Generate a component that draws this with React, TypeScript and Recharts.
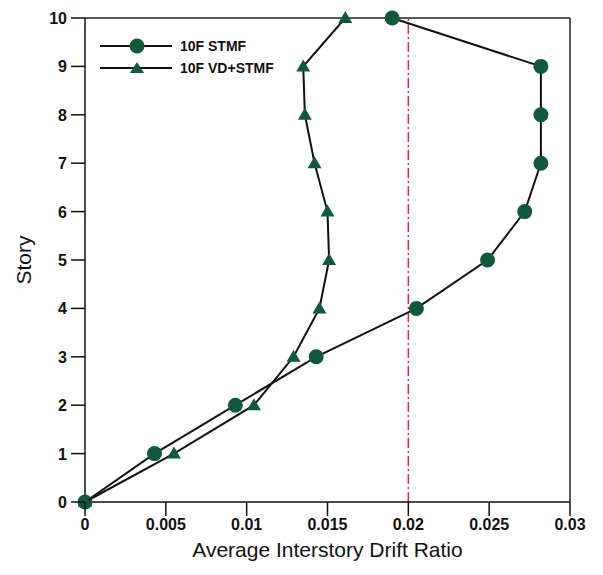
import { ReferenceLine, Scatter, ScatterChart, XAxis, YAxis } from "recharts";

const stories = [0, 1, 2, 3, 4, 5, 6, 7, 8, 9, 10];
const stmfDrift = [0, 0.0043, 0.0093, 0.0143, 0.0205, 0.0249, 0.0272, 0.0282, 0.0282, 0.0282, 0.019];
const vdDrift = [0, 0.0055, 0.01045, 0.0129, 0.0145, 0.0151, 0.015, 0.0142, 0.0136, 0.0135, 0.0161];
const xTicks = [0, 0.005, 0.01, 0.015, 0.02, 0.025, 0.03];
const limitDrift = 0.02;

const GREEN = "#0f5a3a";
const FONT = "'Liberation Sans', Arial, sans-serif";

const stmfData = stories.map((s, i) => ({ drift: stmfDrift[i], story: s }));
const vdData = stories.map((s, i) => ({ drift: vdDrift[i], story: s }));

const Circle = (p: any) => <circle cx={p.cx} cy={p.cy} r={7.5} fill={GREEN} />;
const Tri = (p: any) => (
  <polygon points={`${p.cx},${p.cy - 7} ${p.cx - 7},${p.cy + 5} ${p.cx + 7},${p.cy + 5}`} fill={GREEN} />
);

// tick marks drawn by hand so they show clearly, outward like the original
const XTick = (p: any) => (
  <g>
    <line x1={p.x} y1={p.y - 16} x2={p.x} y2={p.y - 2} stroke="#111" strokeWidth={1.5} />
    <text x={p.x} y={p.y + 12} textAnchor="middle" fill="#111" fontSize={16} fontWeight={700} fontFamily={FONT}>
      {String(p.payload.value)}
    </text>
  </g>
);
const YTick = (p: any) => (
  <g>
    <line x1={p.x + 2} y1={p.y} x2={p.x + 16} y2={p.y} stroke="#111" strokeWidth={1.5} />
    <text x={p.x - 2} y={p.y + 6} textAnchor="end" fill="#111" fontSize={16} fontWeight={700} fontFamily={FONT}>
      {p.payload.value}
    </text>
  </g>
);

function LegendBox() {
  const row = (label: string, circle: boolean) => (
    <div style={{ display: "flex", alignItems: "center", height: 22 }}>
      <svg width={80} height={20}>
        <line x1={4} y1={10} x2={76} y2={10} stroke="#111" strokeWidth={2} />
        {circle ? <circle cx={41} cy={10} r={7.5} fill={GREEN} />
          : <polygon points="41,4 34,15 48,15" fill={GREEN} />}
      </svg>
      <span style={{ fontFamily: FONT, fontWeight: 700, fontSize: 14, color: "#111", marginLeft: 4 }}>{label}</span>
    </div>
  );
  return (
    <div style={{ position: "absolute", left: 96, top: 35 }}>
      {row("10F STMF", true)}
      {row("10F VD+STMF", false)}
    </div>
  );
}

export default function App() {
  const axisStroke = { stroke: "#111", strokeWidth: 1.5 };
  return (
    <div style={{ position: "absolute", left: 0, top: 0, width: 603, height: 575, background: "#fff" }}>
      <ScatterChart width={603} height={575} margin={{ top: 18, right: 33, left: 0, bottom: 0 }}>
        <XAxis type="number" dataKey="drift" domain={[0, 0.03]} ticks={xTicks} tick={<XTick />}
          axisLine={axisStroke} tickLine={false} tickSize={14} tickMargin={2} height={73}
          label={{ value: "Average Interstory Drift Ratio", position: "insideBottom", offset: 18,
            style: { fontSize: 21, fontFamily: FONT, fill: "#111" } }} />
        <YAxis type="number" dataKey="story" domain={[0, 10]} ticks={stories} tick={<YTick />}
          axisLine={axisStroke} tickLine={false} tickSize={14} tickMargin={2} width={85}
          label={{ value: "Story", angle: -90, position: "insideLeft", offset: 24,
            style: { fontSize: 21, fontFamily: FONT, fill: "#111", textAnchor: "middle" } }} />
        <ReferenceLine y={10} stroke="#222" strokeWidth={1.5} />
        <ReferenceLine x={0.03} stroke="#222" strokeWidth={1.5} />
        <ReferenceLine x={limitDrift} stroke="#e0204a" strokeWidth={1.5} strokeDasharray="10 3 2 3" />
        <Scatter name="10F STMF" data={stmfData} shape={Circle} line={{ stroke: "#111", strokeWidth: 2 }}
          lineType="joint" isAnimationActive={false} />
        <Scatter name="10F VD+STMF" data={vdData} shape={Tri} line={{ stroke: "#111", strokeWidth: 2 }}
          lineType="joint" isAnimationActive={false} />
      </ScatterChart>
      <LegendBox />
    </div>
  );
}
